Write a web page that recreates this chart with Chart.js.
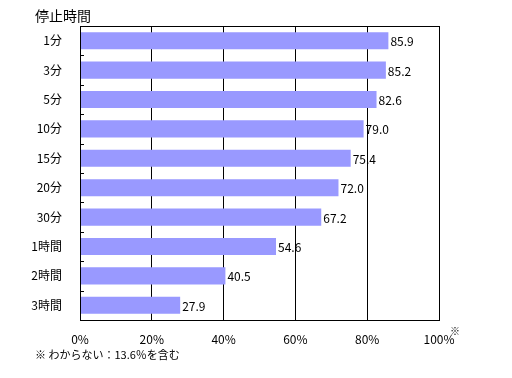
<!DOCTYPE html>
<html>
<head>
<meta charset="utf-8">
<script src="https://cdn.jsdelivr.net/npm/chart.js@4"></script>
<style>
  html, body { margin: 0; padding: 0; background: #fff; }
  #wrap { width: 512px; height: 378px; }
</style>
</head>
<body>
<div id="wrap"><canvas id="myChart" width="512" height="378"></canvas></div>
<script>
var categories = ['1分', '3分', '5分', '10分', '15分', '20分', '30分', '1時間', '2時間', '3時間'];
var values = [85.9, 85.2, 82.6, 79.0, 75.4, 72.0, 67.2, 54.6, 40.5, 27.9];
var xTicks = [0, 20, 40, 60, 80, 100];
var titleText = '停止時間';
var noteText = '※ わからない：13.6％を含む';

var fontFamily = '"Noto Sans CJK JP", "DejaVu Sans", sans-serif';

// title, border, tick marks, value labels and footnote
var extras = {
    id: 'extras',
    afterDraw: function (chart) {
        var c = chart.ctx;
        var a = chart.chartArea;
        var y = chart.scales.y;
        c.save();
        c.strokeStyle = '#000';
        c.lineWidth = 1;
        c.strokeRect(Math.round(a.left) + 0.5, Math.round(a.top) + 0.5,
            Math.round(a.right - a.left), Math.round(a.bottom - a.top));

        // short ticks between categories
        var step = y.getPixelForValue(1) - y.getPixelForValue(0);
        c.beginPath();
        for (var i = 1; i < categories.length; i++) {
            var py = Math.round(y.getPixelForValue(i) - step / 2) + 0.5;
            c.moveTo(a.left, py);
            c.lineTo(a.left + 4, py);
        }
        c.stroke();

        c.fillStyle = '#000';
        c.textBaseline = 'middle';
        c.textAlign = 'left';

        c.font = '14px ' + fontFamily;
        c.fillText(titleText, 35, 16);

        // value labels
        c.font = '12px ' + fontFamily;
        chart.getDatasetMeta(0).data.forEach(function (bar, i) {
            c.fillText(values[i].toFixed(1), bar.x + 2, bar.y + 1);
        });

        // mark by 100%
        var x = chart.scales.x;
        c.font = '10px ' + fontFamily;
        c.fillText('※', x.getPixelForValue(100) + 11, a.bottom + 11);

        c.font = '11px ' + fontFamily;
        c.fillText(noteText, 35, 355);
        c.restore();
    }
};

var ctx = document.getElementById('myChart').getContext('2d');
var myChart = new Chart(ctx, {
    type: 'bar',
    data: {
        labels: categories,
        datasets: [{
            data: values,
            backgroundColor: '#9999FF',
            borderWidth: 0,
            barPercentage: 0.58,
            categoryPercentage: 1
        }]
    },
    plugins: [extras],
    options: {
        indexAxis: 'y',
        responsive: false,
        animation: false,
        layout: { padding: { left: 0, right: 73, top: 26, bottom: 0 } },
        plugins: {
            legend: { display: false },
            tooltip: { enabled: false }
        },
        scales: {
            x: {
                min: 0,
                max: 100,
                afterBuildTicks: function (scale) {
                    scale.ticks = xTicks.map(function (v) { return { value: v }; });
                },
                afterFit: function (scale) { scale.height = 58; },
                grid: { color: '#000', drawTicks: false },
                border: { color: '#000' },
                ticks: {
                    color: '#000',
                    padding: 12,
                    maxRotation: 0,
                    font: { family: fontFamily, size: 12 },
                    callback: function (v) { return v + '%'; }
                }
            },
            y: {
                afterFit: function (scale) { scale.width = 80; },
                grid: { display: false },
                border: { color: '#000' },
                ticks: {
                    color: '#000',
                    padding: 10,
                    font: { family: fontFamily, size: 12 }
                }
            }
        }
    }
});
</script>
</body>
</html>
